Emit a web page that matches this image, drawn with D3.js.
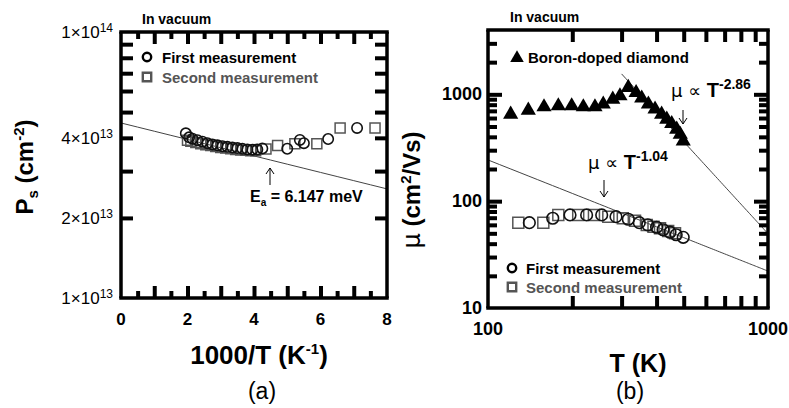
<!doctype html>
<html>
<head>
<script src="https://d3js.org/d3.v7.min.js"></script>
<style>
  body { margin: 0; background: #fff; }
  text { font-family: "Liberation Sans", Arial, sans-serif; }
</style>
</head>
<body>
<script>
// ---- panel (a): sheet carrier density vs 1000/T ----
var aFirstX = [1.95, 2.05, 2.15, 2.3, 2.45, 2.6, 2.75, 2.9, 3.05, 3.2, 3.35, 3.5, 3.65, 3.8, 3.95, 4.1, 4.25, 5.0, 5.38, 5.5, 6.23, 7.1];
var aFirstY = [4.16, 4.02, 3.97, 3.92, 3.87, 3.82, 3.78, 3.75, 3.72, 3.70, 3.68, 3.66, 3.64, 3.62, 3.61, 3.62, 3.65, 3.64, 3.93, 3.82, 3.96, 4.36];
var aSecondX = [2.0, 2.1, 2.25, 2.4, 2.55, 2.7, 2.85, 3.0, 3.15, 3.3, 3.45, 3.6, 3.75, 3.9, 4.05, 4.36, 4.71, 5.23, 5.89, 6.59, 7.64];
var aSecondY = [3.92, 3.88, 3.84, 3.80, 3.77, 3.74, 3.71, 3.68, 3.66, 3.64, 3.62, 3.60, 3.59, 3.58, 3.58, 3.63, 3.74, 3.80, 3.80, 4.36, 4.36];
var aTickLabels = [0, 2, 4, 6, 8];
var aYLabels = [[1, 14], [4, 13], [2, 13], [1, 13]];
var fitP0 = 4.55e13, fitEa = 6.147; // meV
var kB = 0.08617; // meV/K

// ---- panel (b): mobility vs T ----
var bDiamT = [120.5, 139.3, 158.5, 178.3, 199, 219, 241, 258, 279, 296, 317, 338, 354, 374, 395, 417, 435, 453, 472, 486, 498];
var bDiamMu = [665, 725, 778, 796, 796, 778, 778, 826, 919, 986, 1181, 1059, 940, 826, 741, 665, 597, 543, 481, 430, 372];
var bFirstT = [140.5, 170.3, 196.3, 225, 254.7, 286.5, 317, 347, 372, 400, 422, 446.7, 470, 498];
var bFirstMu = [62.9, 69.2, 74.3, 74.3, 74.3, 71.6, 67.7, 62.9, 60.0, 57.0, 54.0, 51.2, 48.5, 45.9];
var bSecondT = [128.3, 157.6, 178.3, 210, 239, 269, 303, 335, 369, 390, 411.5, 440, 465.5];
var bSecondMu = [62.9, 62.9, 74.3, 74.3, 74.3, 71.6, 69.2, 65.6, 59.9, 57.5, 55.7, 52.5, 50.0];
var fit1 = {T0: 300, mu0: 1553, n: 2.86, from: 300};
var fit2 = {T0: 100, mu0: 243, n: 1.04, from: 100};

var svg = d3.select("body").append("svg")
    .attr("width", 789).attr("height", 408);

function sup(sel, base, s, size, dy) {
  sel.append("tspan").text(base);
  sel.append("tspan").attr("dy", -dy).attr("font-size", size).text(s);
}
function ring(r, w) {
  return d3.arc()({innerRadius: r - w / 2, outerRadius: r + w / 2, startAngle: 0, endAngle: 2 * Math.PI});
}
function squareRing(h, w) {
  var o = h + w / 2, i = h - w / 2;
  return "M" + (-o) + "," + (-o) + "H" + o + "V" + o + "H" + (-o) + "Z" +
         "M" + (-i) + "," + (-i) + "V" + i + "H" + i + "V" + (-i) + "Z";
}
// inward ticks: d3 axis with negative inner size
function ticksIn(g, axisFn, scale, vals, len, tx, ty) {
  g.append("g").attr("transform", "translate(" + tx + "," + ty + ")")
    .call(axisFn(scale).tickValues(vals).tickSizeInner(-len).tickSizeOuter(0).tickFormat(""))
    .call(function(s){
      s.select(".domain").remove();
      s.selectAll(".tick line").attr("stroke", "#000").attr("stroke-width", 4);
    });
}
// plot frame: four thick lines
function frame(g, x0, y0, x1, y1, w) {
  var sides = [[x0 - w / 2, y0, x1 + w / 2, y0], [x0 - w / 2, y1, x1 + w / 2, y1],
               [x0, y0, x0, y1], [x1, y0, x1, y1]];
  g.selectAll(null).data(sides).enter().append("line")
    .attr("x1", function(d){ return d[0]; }).attr("y1", function(d){ return d[1]; })
    .attr("x2", function(d){ return d[2]; }).attr("y2", function(d){ return d[3]; })
    .attr("stroke", "#000").attr("stroke-width", w);
}

// ================= panel (a) =================
var ax = d3.scaleLinear().domain([0, 8]).range([121, 387]);
var ay = d3.scaleLog().domain([1e13, 1e14]).range([298, 32]);
var ga = svg.append("g");

var fitXs = d3.range(0, 8.01, 0.5);
ga.append("path")
  .datum(fitXs)
  .attr("fill", "none").attr("stroke", "#444").attr("stroke-width", 1)
  .attr("d", d3.line()
    .x(function(d){ return ax(d); })
    .y(function(d){ return ay(fitP0 * Math.exp(-fitEa / kB * d / 1000)); }));

var aMajorX = d3.range(1, 8, 1);
var aHalfX = d3.range(0.5, 8, 1);
var aMinorY = d3.range(2, 10).map(function(d){ return d * 1e13; });
ticksIn(ga, d3.axisBottom, ax, aMajorX, 12, 0, 298);
ticksIn(ga, d3.axisBottom, ax, aHalfX, 7, 0, 298);
ticksIn(ga, d3.axisTop, ax, aMajorX, 12, 0, 32);
ticksIn(ga, d3.axisTop, ax, aHalfX, 7, 0, 32);
ticksIn(ga, d3.axisLeft, ay, aMinorY, 12, 121, 0);
ticksIn(ga, d3.axisRight, ay, aMinorY, 12, 387, 0);
frame(ga, 121, 32, 387, 298, 3.5);

ga.selectAll("text.axl").data(aTickLabels).enter().append("text")
  .attr("x", function(d){ return ax(d); }).attr("y", 325).attr("text-anchor", "middle")
  .attr("font-size", 17).attr("font-weight", "bold").text(function(d){ return d; });
aYLabels.forEach(function(p){
  var t = ga.append("text").attr("x", 113).attr("y", ay(p[0] * Math.pow(10, p[1])) + 6)
    .attr("text-anchor", "end").attr("font-size", 17);
  sup(t, p[0] + "\u00d710", p[1], 12, 6);
});

ga.selectAll("path.sqa").data(aSecondX).enter().append("path")
  .attr("d", squareRing(5, 1.5))
  .attr("transform", function(d, i){ return "translate(" + ax(d) + "," + ay(aSecondY[i] * 1e13) + ")"; })
  .attr("fill", "#555");
ga.selectAll("path.cia").data(aFirstX).enter().append("path")
  .attr("d", ring(5.2, 1.6))
  .attr("transform", function(d, i){ return "translate(" + ax(d) + "," + ay(aFirstY[i] * 1e13) + ")"; })
  .attr("fill", "#111");

ga.append("path").attr("d", ring(4.2, 2.4)).attr("transform", "translate(147,57)").attr("fill", "#000");
ga.append("text").attr("x", 162).attr("y", 63).attr("font-size", 15).attr("font-weight", "bold")
  .text("First measurement");
ga.append("path").attr("d", squareRing(4.2, 2.4)).attr("transform", "translate(147,77)").attr("fill", "#555");
ga.append("text").attr("x", 162).attr("y", 83).attr("font-size", 15).attr("font-weight", "bold")
  .attr("fill", "#555").text("Second measurement");

ga.append("path").attr("d", "M270,185 L270,168 M266,174 L270,168 L274,174").attr("fill", "none")
  .attr("stroke", "#000").attr("stroke-width", 1);
var ea = ga.append("text").attr("x", 250).attr("y", 202).attr("font-size", 16).attr("font-weight", "bold");
ea.append("tspan").text("E");
ea.append("tspan").attr("dy", 4).attr("font-size", 10).text("a");
ea.append("tspan").attr("dy", -4).text(" = 6.147 meV");

ga.append("text").attr("x", 142).attr("y", 24).attr("font-size", 14).attr("font-weight", "bold").text("In vacuum");

var ta = ga.append("text").attr("x", 259).attr("y", 364).attr("text-anchor", "middle")
  .attr("font-size", 26).attr("font-weight", "bold");
ta.append("tspan").text("1000/T (K");
ta.append("tspan").attr("dy", -10).attr("font-size", 15).text("-1");
ta.append("tspan").attr("dy", 10).text(")");

var ya = ga.append("text").attr("transform", "translate(33,167) rotate(-90)").attr("text-anchor", "middle")
  .attr("font-size", 24).attr("font-weight", "bold");
ya.append("tspan").text("P");
ya.append("tspan").attr("dy", 5).attr("font-size", 15).text("s");
ya.append("tspan").attr("dy", -5).text(" (cm");
ya.append("tspan").attr("dy", -9).attr("font-size", 15).text("-2");
ya.append("tspan").attr("dy", 9).text(")");

ga.append("text").attr("x", 262).attr("y", 399).attr("text-anchor", "middle")
  .attr("font-family", "Liberation Serif, serif").attr("font-size", 23).text("(a)");

// ================= panel (b) =================
var bx = d3.scaleLog().domain([100, 1000]).range([488, 768]);
var by = d3.scaleLog().domain([10, 4000]).range([308, 30]);
var gb = svg.append("g");

function powLine(f) {
  var ts = d3.range(f.from, 1001, 10);
  return d3.line().x(function(d){ return bx(d); })
    .y(function(d){ return by(f.mu0 * Math.pow(f.T0 / d, f.n)); })(ts);
}
[fit1, fit2].forEach(function(f){
  gb.append("path").attr("d", powLine(f))
    .attr("fill", "none").attr("stroke", "#444").attr("stroke-width", 1);
});

var bMinorX = d3.range(200, 1000, 100);
var bMajorY = [100, 1000];
var bMinorY = [20, 30, 40, 50, 60, 70, 80, 90, 200, 300, 400, 500, 600, 700, 800, 900, 2000, 3000];
ticksIn(gb, d3.axisBottom, bx, bMinorX, 12, 0, 308);
ticksIn(gb, d3.axisTop, bx, bMinorX, 12, 0, 30);
ticksIn(gb, d3.axisLeft, by, bMajorY, 14, 488, 0);
ticksIn(gb, d3.axisLeft, by, bMinorY, 9, 488, 0);
ticksIn(gb, d3.axisRight, by, bMajorY, 14, 768, 0);
ticksIn(gb, d3.axisRight, by, bMinorY, 9, 768, 0);
frame(gb, 488, 30, 768, 308, 3.5);

gb.selectAll("text.bxl").data([100, 1000]).enter().append("text")
  .attr("x", function(d){ return bx(d); }).attr("y", 335).attr("text-anchor", "middle")
  .attr("font-size", 18).attr("font-weight", "bold").text(function(d){ return d; });
gb.selectAll("text.byl").data([10, 100, 1000]).enter().append("text")
  .attr("x", 482).attr("y", function(d){ return by(d) + 6; }).attr("text-anchor", "end")
  .attr("font-size", 18).attr("font-weight", "bold").text(function(d){ return d; });

var tri = d3.symbol().type(d3.symbolTriangle).size(100);
gb.selectAll("path.tr").data(bDiamT).enter().append("path")
  .attr("d", tri)
  .attr("transform", function(d, i){ return "translate(" + bx(d) + "," + (by(bDiamMu[i]) + 1) + ")"; })
  .attr("fill", "#000");
gb.selectAll("path.sqb").data(bSecondT).enter().append("path")
  .attr("d", squareRing(5.5, 1.5))
  .attr("transform", function(d, i){ return "translate(" + bx(d) + "," + by(bSecondMu[i]) + ")"; })
  .attr("fill", "#555");
gb.selectAll("path.cib").data(bFirstT).enter().append("path")
  .attr("d", ring(5.8, 1.6))
  .attr("transform", function(d, i){ return "translate(" + bx(d) + "," + by(bFirstMu[i]) + ")"; })
  .attr("fill", "#111");

gb.append("path").attr("d", d3.symbol().type(d3.symbolTriangle).size(80))
  .attr("transform", "translate(517,58)").attr("fill", "#000");
gb.append("text").attr("x", 528).attr("y", 63).attr("font-size", 15).attr("font-weight", "bold")
  .text("Boron-doped diamond");
gb.append("path").attr("d", ring(4.2, 2.4)).attr("transform", "translate(512,268)").attr("fill", "#000");
gb.append("text").attr("x", 526).attr("y", 274).attr("font-size", 15).attr("font-weight", "bold")
  .text("First measurement");
gb.append("path").attr("d", squareRing(4.2, 2.4)).attr("transform", "translate(512,287)").attr("fill", "#555");
gb.append("text").attr("x", 526).attr("y", 293).attr("font-size", 15).attr("font-weight", "bold")
  .attr("fill", "#555").text("Second measurement");

function arrowDown(x, y1, y2) {
  gb.append("path").attr("d", "M" + x + "," + y1 + " L" + x + "," + y2 +
      " M" + (x - 4) + "," + (y2 - 6) + " L" + x + "," + y2 + " L" + (x + 4) + "," + (y2 - 6))
    .attr("fill", "none").attr("stroke", "#000").attr("stroke-width", 1);
}
function powLabel(x, y, s) {
  var t = gb.append("text").attr("x", x).attr("y", y).attr("font-size", 20);
  t.append("tspan").attr("font-family", "DejaVu Sans, sans-serif").attr("font-size", 18).text("\u03bc \u221d ");
  t.append("tspan").attr("font-weight", "bold").text("T");
  t.append("tspan").attr("font-weight", "bold").attr("font-size", 14).attr("dy", -8).text(s);
}
powLabel(671, 97, "-2.86");
arrowDown(683, 110, 124);
powLabel(588, 169, "-1.04");
arrowDown(604, 180, 197);

gb.append("text").attr("x", 510).attr("y", 22).attr("font-size", 14).attr("font-weight", "bold").text("In vacuum");
gb.append("text").attr("x", 638).attr("y", 372).attr("text-anchor", "middle")
  .attr("font-size", 25).attr("font-weight", "bold").text("T (K)");

var yb = gb.append("text").attr("transform", "translate(420,190) rotate(-90)").attr("text-anchor", "middle")
  .attr("font-size", 24).attr("font-weight", "bold");
yb.append("tspan").attr("font-weight", "normal").attr("font-family", "DejaVu Sans, sans-serif").text("\u03bc");
yb.append("tspan").text(" (cm");
yb.append("tspan").attr("dy", -9).attr("font-size", 15).text("2");
yb.append("tspan").attr("dy", 9).text("/Vs)");

gb.append("text").attr("x", 630).attr("y", 399).attr("text-anchor", "middle")
  .attr("font-family", "Liberation Serif, serif").attr("font-size", 23).text("(b)");
</script>
</body>
</html>
